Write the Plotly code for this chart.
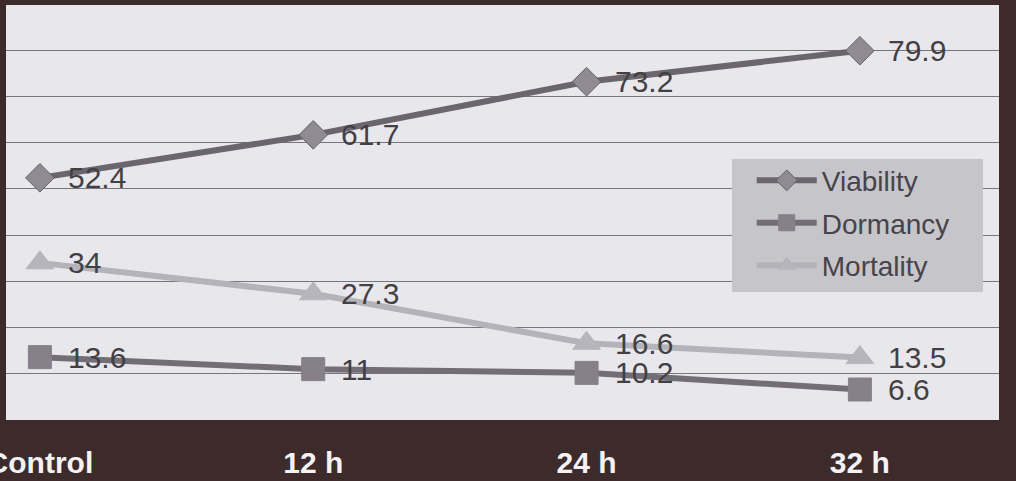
import plotly.graph_objects as go

# Time points and measured percentages
categories = ["Control", "12 h", "24 h", "32 h"]
viability = [52.4, 61.7, 73.2, 79.9]
dormancy = [13.6, 11, 10.2, 6.6]
mortality = [34, 27.3, 16.6, 13.5]

series = [
    dict(name="Viability", y=viability, line="#6b656d", fill="#8f8b93", edge="#676269", symbol="diamond", size=22),
    dict(name="Dormancy", y=dormancy, line="#736e75", fill="#85808a", edge="#85808a", symbol="square", size=23),
    dict(name="Mortality", y=mortality, line="#b4b3b9", fill="#b6b5bb", edge="#b6b5bb", symbol="triangle-up", size=24),
]

fig = go.Figure()
annotations = []
for i, s in enumerate(series):
    fig.add_trace(go.Scatter(
        x=categories, y=s["y"], name=s["name"], mode="lines+markers",
        legendgroup=s["name"],
        line=dict(color=s["line"], width=6),
        marker=dict(symbol=s["symbol"], size=s["size"], color=s["fill"],
                    line=dict(color=s["edge"], width=1)),
    ))
    for c, v in zip(categories, s["y"]):
        annotations.append(dict(
            x=c, y=v, xref="x", yref="y", text=f"{v:g}", showarrow=False,
            xanchor="left", yanchor="middle", xshift=26,
            font=dict(family="Liberation Sans, Arial", size=30, color="#423f45"),
        ))

fig.update_layout(
    width=1016, height=481,
    margin=dict(l=6, r=17, t=5, b=61),
    paper_bgcolor="#3d2b2c",
    plot_bgcolor="#e8e8ec",
    showlegend=True,
    legend=dict(
        x=0.751, y=0.637, xanchor="left", yanchor="top",
        bgcolor="rgba(0,0,0,0)", borderwidth=0,
        font=dict(family="Liberation Sans, Arial", size=28, color="#47434a"),
        tracegroupgap=3, itemwidth=60,
    ),
    # legend panel drawn as a filled box behind the legend entries
    shapes=[dict(
        type="rect", xref="paper", yref="paper",
        x0=0.7311, x1=0.9839, y0=0.3084, y1=0.6289,
        fillcolor="#c6c5ca", line=dict(width=0), layer="above",
    )],
    annotations=annotations,
    xaxis=dict(
        type="category", range=[-0.124, 3.509],
        showgrid=False, zeroline=False, showline=False, ticks="",
        tickfont=dict(family="Liberation Sans, Arial", size=30, color="#f4f2f4", weight="bold"),
        ticklabelstandoff=22, automargin=False,
    ),
    yaxis=dict(
        range=[0, 89.8], dtick=10, showticklabels=False,
        showgrid=True, gridcolor="#77767c", gridwidth=1,
        zeroline=False, showline=False, ticks="", automargin=False,
    ),
)

fig.write_html("out.html")
